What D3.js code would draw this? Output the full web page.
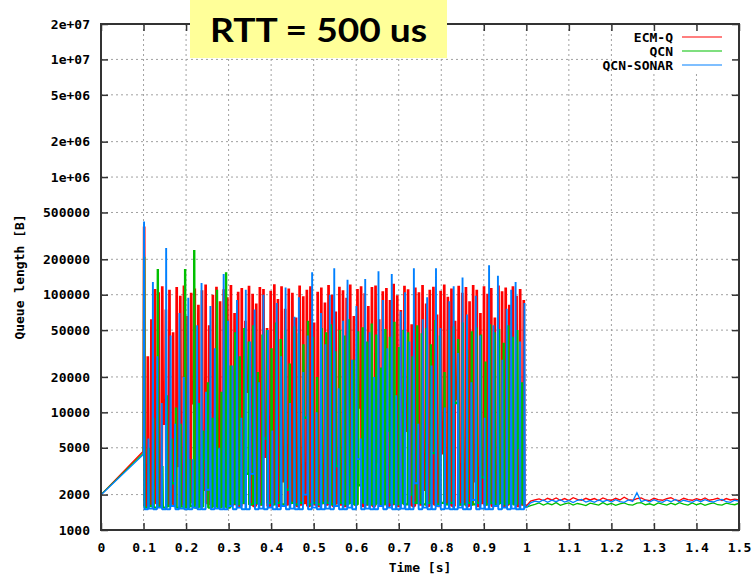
<!DOCTYPE html>
<html>
<head>
<meta charset="utf-8">
<script src="https://cdn.jsdelivr.net/npm/d3@7"></script>
<style>
body { margin: 0; background: #fff; }
svg text { font-family: "DejaVu Sans Mono", "Liberation Mono", monospace; font-weight: bold; font-size: 13px; fill: #000; }
</style>
</head>
<body>
<svg id="chart" width="755" height="576"></svg>
<script>
// axis ticks
var xTicks = [0, 0.1, 0.2, 0.3, 0.4, 0.5, 0.6, 0.7, 0.8, 0.9, 1, 1.1, 1.2, 1.3, 1.4, 1.5];
var xTickLabels = ["0", "0.1", "0.2", "0.3", "0.4", "0.5", "0.6", "0.7", "0.8", "0.9", "1", "1.1", "1.2", "1.3", "1.4", "1.5"];
var yTicks = [1000, 2000, 5000, 10000, 20000, 50000, 100000, 200000, 500000, 1e6, 2e6, 5e6, 1e7, 2e7];
var yTickLabels = ["1000", "2000", "5000", "10000", "20000", "50000", "100000", "200000", "500000",
                   "1e+06", "2e+06", "5e+06", "1e+07", "2e+07"];

var seriesNames = ["ECM-Q", "QCN", "QCN-SONAR"];
var seriesColors = ["#ff0000", "#00c000", "#0080ff"];

// start-up ramp, [time, bytes]
var redLead = [[0, 2000], [0.1, 4700]];
var greenLead = [[0, 2000], [0.1, 4500]];
var blueLead = [[0, 1750], [0.001, 2000], [0.1, 4400]];

// oscillation 0.1 .. 1.0 s : peak / trough per cycle
var redStart = 0.1015, redStep = 0.0085;
var redPeaks = [
  380000, 30000, 62000, 112000, 105000, 118000, 75000, 110000, 48000, 116000,
  98000, 120000, 66000, 104000, 113000, 82000, 109000, 122000, 55000, 100000,
  117000, 88000, 111000, 95000, 121000, 70000, 106000, 114000, 60000, 119000,
  102000, 84000, 116000, 112000, 52000, 108000, 123000, 92000, 118000, 76000,
  113000, 104000, 64000, 120000, 97000, 110000, 118000, 58000, 106000, 115000,
  86000, 121000, 100000, 72000, 117000, 109000, 94000, 122000, 66000, 112000,
  118000, 103000, 80000, 116000, 120000, 62000, 107000, 114000, 90000, 124000,
  99000, 74000, 119000, 111000, 56000, 115000, 105000, 121000, 84000, 110000,
  117000, 68000, 108000, 122000, 96000, 113000, 60000, 119000, 104000, 116000,
  88000, 121000, 110000, 70000, 118000, 102000, 114000, 64000, 120000, 107000,
  115000, 82000, 118000, 98000, 112000, 90000
];
var redTroughs = [
  1600, 1650, 2400, 1700, 1600, 8000, 1650, 1700, 1600, 3500,
  1650, 1600, 1700, 12000, 1650, 1600, 2200, 1700, 1650, 1600,
  5000, 1650, 1700, 1600, 1650, 2800, 1600, 1700, 15000, 1650,
  1600, 1700, 1650, 4200, 1600, 1650, 1700, 1600, 2600, 1650,
  1700, 9000, 1600, 1650, 1700, 1600, 3000, 1650, 1600, 1700,
  1650, 6000, 1600, 1700, 1650, 1600, 2000, 1700, 1650, 11000,
  1600, 1650, 1700, 1600, 3800, 1650, 1700, 1600, 1650, 2400,
  1600, 1700, 7000, 1650, 1600, 1700, 1650, 2200, 1600, 1700,
  1650, 1600, 4500, 1700, 1650, 1600, 13000, 1650, 1700, 1600,
  1650, 2600, 1600, 1700, 1650, 5500, 1600, 1650, 1700, 1600,
  1650, 3200, 1700, 1600, 1650, 1700
];

var greenStart = 0.1015, greenStep = 0.0107;
var greenPeaks = [
  210000, 5000, 9000, 165000, 3500, 14000, 6000, 11000, 8000, 165000,
  4000, 240000, 12000, 7000, 18000, 9000, 110000, 15000, 155000, 25000,
  48000, 30000, 52000, 40000, 55000, 22000, 46000, 50000, 35000, 58000,
  42000, 50000, 26000, 54000, 47000, 38000, 60000, 44000, 20000, 52000,
  48000, 56000, 33000, 50000, 45000, 62000, 28000, 49000, 53000, 40000,
  57000, 46000, 24000, 51000, 44000, 59000, 36000, 50000, 48000, 30000,
  55000, 47000, 52000, 38000, 61000, 45000, 22000, 50000, 54000, 42000,
  58000, 34000, 49000, 53000, 46000, 27000, 56000, 48000, 51000, 39000,
  55000, 44000, 50000, 18000
];
var greenTroughs = [
  1550, 1600, 1550, 1580, 1550, 1600, 2500, 1550, 1580, 1550,
  1600, 1550, 1580, 4000, 1550, 1600, 1550, 1580, 1550, 1700,
  1650, 1700, 3000, 1650, 1700, 1650, 6000, 1700, 1650, 1700,
  1650, 2200, 1700, 1650, 1700, 9000, 1650, 1700, 1650, 1700,
  1700, 1650, 3500, 1700, 1650, 1700, 1650, 2400, 1700, 1650,
  1650, 1700, 1650, 7000, 1700, 1650, 1700, 1650, 2000, 1700,
  1700, 1650, 1700, 4500, 1650, 1700, 1650, 1700, 12000, 1650,
  1650, 1700, 1650, 1700, 2800, 1650, 1700, 1650, 1700, 1650,
  1700, 1650, 5000, 1650
];

var blueStart = 0.1012, blueStep = 0.0104;
var bluePeaks = [
  420000, 6000, 128000, 30000, 12000, 250000, 45000, 8000, 70000, 20000,
  94000, 4000, 55000, 126000, 15000, 80000, 35000, 5000, 150000, 60000,
  25000, 90000, 9000, 110000, 40000, 75000, 18000, 100000, 50000, 7000,
  85000, 30000, 115000, 12000, 65000, 95000, 22000, 45000, 155000, 10000,
  70000, 38000, 100000, 168000, 16000, 60000, 134000, 28000, 80000, 6000,
  136000, 48000, 20000, 158000, 90000, 35000, 150000, 14000, 72000, 105000,
  40000, 168000, 8000, 62000, 95000, 25000, 168000, 52000, 11000, 88000,
  118000, 32000, 140000, 68000, 18000, 98000, 45000, 9000, 178000, 55000,
  145000, 28000, 76000, 110000, 128000, 40000, 85000
];
var blueTroughs = [
  1500, 1520, 1500, 1550, 1500, 1500, 1600, 1500, 1520, 1500,
  1500, 1550, 1500, 1500, 2200, 1500, 1520, 1500, 1500, 1600,
  1500, 1550, 1500, 1500, 3000, 1500, 1520, 1500, 1550, 1500,
  1500, 1600, 1500, 1520, 1500, 1500, 2000, 1500, 1550, 1500,
  1500, 1520, 1500, 1600, 1500, 1500, 1550, 1500, 4000, 1500,
  1520, 1500, 1500, 1600, 1500, 1550, 1500, 1500, 1520, 1500,
  1500, 2500, 1500, 1550, 1500, 1500, 1600, 1500, 1520, 1500,
  1500, 1550, 1500, 1500, 1800, 1500, 1520, 1500, 1500, 1600,
  1500, 1550, 1500, 1520, 1500, 1500, 1550
];

// steady state 1.0 .. 1.5 s, one value per 10 ms
var tailStart = 1.0, tailStep = 0.01;
var redTail = [
  1600, 1760, 1800, 1840, 1780, 1860, 1800, 1870, 1790, 1850,
  1780, 1880, 1820, 1790, 1860, 1800, 1850, 1780, 1870, 1810,
  1790, 1860, 1800, 1900, 1810, 1790, 1850, 1870, 1800, 1780,
  1860, 1810, 1790, 1850, 1880, 1800, 1780, 1860, 1810, 1790,
  1850, 1800, 1870, 1790, 1820, 1860, 1780, 1850, 1800, 1830, 1800
];
var greenTail = [
  1560, 1610, 1650, 1700, 1630, 1680, 1640, 1710, 1620, 1670,
  1700, 1630, 1680, 1650, 1610, 1690, 1660, 1630, 1710, 1640,
  1680, 1620, 1670, 1700, 1640, 1630, 1690, 1710, 1640, 1670,
  1620, 1700, 1660, 1630, 1690, 1640, 1710, 1660, 1630, 1700,
  1640, 1680, 1620, 1670, 1700, 1640, 1630, 1690, 1660, 1640, 1690
];
var blueTail = [
  1550, 1700, 1760, 1730, 1800, 1720, 1790, 1740, 1810, 1730,
  1780, 1710, 1790, 1820, 1730, 1780, 1720, 1800, 1740, 1790,
  1730, 1810, 1740, 1720, 1800, 1750, 2070, 1740, 1790, 1730,
  1810, 1750, 1720, 1800, 1740, 1820, 1730, 1790, 1750, 1720,
  1800, 1740, 1810, 1750, 1730, 1790, 1820, 1740, 1720, 1790, 1760
];

// line width of the spiky part, half-width of a spike (s), line width of ramp and tail
var spikeWidths = [2.7, 2.4, 1.9];
var spikeHalf = [0.0013, 0.001, 0.0008];
var calmWidth = 1.3;

var plotLeft = 101, plotRight = 739, plotTop = 24, plotBottom = 530;

var svg = d3.select("#chart");

var x = d3.scaleLinear().domain([0, 1.5]).range([plotLeft, plotRight]);
var y = d3.scaleLog().domain([1000, 2e7]).range([plotBottom, plotTop]);

// each cycle: sit at previous trough, jump to the peak, fall to the trough
var buildSpikes = function (lead, t0, dt, e, peaks, troughs) {
    var pts = [];
    var prev = lead[lead.length - 1][1];
    peaks.forEach(function (p, i) {
        var t = t0 + i * dt;
        pts.push({t: t - e, q: prev});
        pts.push({t: t, q: p});
        pts.push({t: t + e, q: troughs[i]});
        prev = troughs[i];
    });
    return pts;
};

// ramp up to the first spike, gap, last spike down to the tail
var buildCalm = function (lead, spikes, tail) {
    var pts = lead.map(function (d) { return {t: d[0], q: d[1]}; });
    pts.push(spikes[0]);
    pts.push(null);
    pts.push(spikes[spikes.length - 1]);
    tail.forEach(function (q, i) { pts.push({t: tailStart + i * tailStep, q: q}); });
    return pts;
};

var spikeData = [
    buildSpikes(redLead, redStart, redStep, spikeHalf[0], redPeaks, redTroughs),
    buildSpikes(greenLead, greenStart, greenStep, spikeHalf[1], greenPeaks, greenTroughs),
    buildSpikes(blueLead, blueStart, blueStep, spikeHalf[2], bluePeaks, blueTroughs)
];
var leads = [redLead, greenLead, blueLead];
var tails = [redTail, greenTail, blueTail];

svg.append("rect").attr("width", 755).attr("height", 576).attr("fill", "#fff");

// dotted grid
svg.append("g").selectAll("line")
    .data(xTicks.slice(1, -1))
    .enter().append("line")
    .attr("x1", function (d) { return x(d); })
    .attr("x2", function (d) { return x(d); })
    .attr("y1", plotTop).attr("y2", plotBottom)
    .attr("stroke", "#a0a0a0").attr("stroke-dasharray", "2,3");

svg.append("g").selectAll("line")
    .data(yTicks.slice(1, -1))
    .enter().append("line")
    .attr("y1", function (d) { return y(d); })
    .attr("y2", function (d) { return y(d); })
    .attr("x1", plotLeft).attr("x2", plotRight)
    .attr("stroke", "#a0a0a0").attr("stroke-dasharray", "2,3");

svg.append("clipPath").attr("id", "plotclip")
    .append("rect").attr("x", plotLeft).attr("y", plotTop)
    .attr("width", plotRight - plotLeft).attr("height", plotBottom - plotTop);

var line = d3.line()
    .defined(function (d) { return d !== null; })
    .x(function (d) { return x(d.t); })
    .y(function (d) { return y(d.q); });

// one group per series: thin ramp + tail, then the spikes
var plot = svg.append("g").attr("clip-path", "url(#plotclip)");
spikeData.forEach(function (spikes, i) {
    var g = plot.append("g");
    g.append("path")
        .attr("d", line(buildCalm(leads[i], spikes, tails[i])))
        .attr("fill", "none")
        .attr("stroke", seriesColors[i])
        .attr("stroke-width", calmWidth);
    g.append("path")
        .attr("d", line(spikes))
        .attr("fill", "none")
        .attr("stroke", seriesColors[i])
        .attr("stroke-width", spikeWidths[i])
        .attr("stroke-linejoin", "bevel");
});

// key background
svg.append("rect").attr("x", 612).attr("y", 28).attr("width", 125).attr("height", 44).attr("fill", "#fff");

// axes with inward ticks, mirrored
var styleAxis = function (g) {
    g.select(".domain").remove();
    g.selectAll(".tick line").attr("stroke", "#333").attr("stroke-width", 1.5);
    g.attr("font-family", null).attr("font-size", null);
};

svg.append("g").attr("transform", "translate(" + plotLeft + ",0)")
    .call(d3.axisLeft(y).tickValues(yTicks)
        .tickFormat(function (d, i) { return yTickLabels[i]; })
        .tickSize(-7).tickPadding(11))
    .call(styleAxis);

svg.append("g").attr("transform", "translate(" + plotRight + ",0)")
    .call(d3.axisRight(y).tickValues(yTicks).tickFormat("").tickSize(-7))
    .call(styleAxis);

svg.append("g").attr("transform", "translate(0," + plotBottom + ")")
    .call(d3.axisBottom(x).tickValues(xTicks)
        .tickFormat(function (d, i) { return xTickLabels[i]; })
        .tickSize(-7).tickPadding(13))
    .call(styleAxis);

svg.append("g").attr("transform", "translate(0," + plotTop + ")")
    .call(d3.axisTop(x).tickValues(xTicks).tickFormat("").tickSize(-7))
    .call(styleAxis);

svg.append("rect")
    .attr("x", plotLeft).attr("y", plotTop)
    .attr("width", plotRight - plotLeft).attr("height", plotBottom - plotTop)
    .attr("fill", "none").attr("stroke", "#333").attr("stroke-width", 2);

// axis titles
svg.append("text")
    .attr("x", (plotLeft + plotRight) / 2).attr("y", 572)
    .attr("text-anchor", "middle")
    .text("Time [s]");

svg.append("text")
    .attr("transform", "translate(24," + (plotTop + plotBottom) / 2 + ") rotate(-90)")
    .attr("text-anchor", "middle")
    .text("Queue length [B]");

// key
var key = svg.append("g").selectAll("g")
    .data(seriesNames)
    .enter().append("g")
    .attr("transform", function (d, i) { return "translate(0," + (37 + i * 14) + ")"; });

key.append("text")
    .attr("x", 673).attr("dy", "0.35em")
    .attr("text-anchor", "end")
    .text(function (d) { return d; });

key.append("line")
    .attr("x1", 682).attr("x2", 722)
    .attr("stroke", function (d, i) { return seriesColors[i]; })
    .attr("stroke-width", 1.2);

// title banner
svg.append("rect")
    .attr("x", 190).attr("y", 0).attr("width", 257).attr("height", 58)
    .attr("fill", "#ffff99");

svg.append("text")
    .attr("x", 318.5).attr("y", 42)
    .attr("text-anchor", "middle")
    .attr("textLength", 217).attr("lengthAdjust", "spacingAndGlyphs")
    .style("font-family", "'Comic Sans MS', Lato, sans-serif")
    .style("font-size", "33px")
    .style("font-weight", "bold")
    .text("RTT = 500 us");
</script>
</body>
</html>
